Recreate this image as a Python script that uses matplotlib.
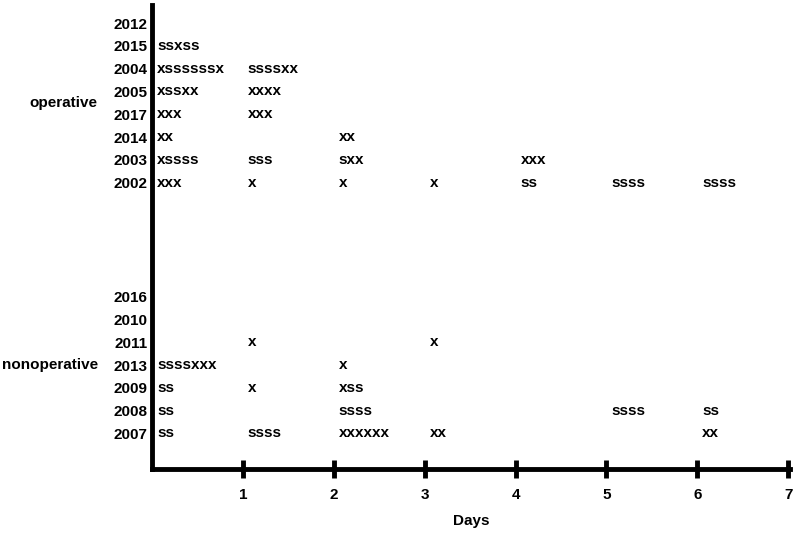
import matplotlib.pyplot as plt
from matplotlib.transforms import blended_transform_factory

plt.rcParams['font.family'] = ['Liberation Sans', 'DejaVu Sans']
plt.rcParams['font.weight'] = 'bold'

# groups and their rows (top to bottom)
operative_years = ['2012', '2015', '2004', '2005', '2017', '2014', '2003', '2002']
operative_marks = [
    {},
    {0: 'ssxss'},
    {0: 'xssssssx', 1: 'ssssxx'},
    {0: 'xssxx', 1: 'xxxx'},
    {0: 'xxx', 1: 'xxx'},
    {0: 'xx', 2: 'xx'},
    {0: 'xssss', 1: 'sss', 2: 'sxx', 4: 'xxx'},
    {0: 'xxx', 1: 'x', 2: 'x', 3: 'x', 4: 'ss', 5: 'ssss', 6: 'ssss'},
]
nonoperative_years = ['2016', '2010', '2011', '2013', '2009', '2008', '2007']
nonoperative_marks = [
    {},
    {},
    {1: 'x', 3: 'x'},
    {0: 'ssssxxx', 2: 'x'},
    {0: 'ss', 1: 'x', 2: 'xss'},
    {0: 'ss', 2: 'ssss', 5: 'ssss', 6: 'ss'},
    {0: 'ss', 1: 'ssss', 2: 'xxxxxx', 3: 'xx', 6: 'xx'},
]
days = [1, 2, 3, 4, 5, 6, 7]

fig = plt.figure(figsize=(8, 5.38), dpi=100)
ax = fig.add_axes([152 / 800, (538 - 469) / 538, 638 / 800, 464 / 538])

# row slots: operative 0..7, gap, nonoperative 12..18
op_slots = list(range(len(operative_years)))
non_start = len(operative_years) + 4
non_slots = [non_start + i for i in range(len(nonoperative_years))]

fs = 11
for slots, marks in [(op_slots, operative_marks), (non_slots, nonoperative_marks)]:
    for s, row in zip(slots, marks):
        for d, txt in row.items():
            ax.text(d + 0.055, s, txt, ha='left', va='center', fontsize=fs, fontweight='bold')

ax.set_xlim(0, 7.02)
ax.set_ylim(19.56, -0.79)

ax.set_yticks(op_slots + non_slots, labels=operative_years + nonoperative_years)
ax.tick_params(axis='y', length=0, pad=3, labelsize=fs)
ax.set_xticks(days, labels=[str(d) for d in days])
ax.tick_params(axis='x', direction='inout', length=13, width=3.5, pad=7, labelsize=fs)
for lbl in ax.get_xticklabels() + ax.get_yticklabels():
    lbl.set_fontweight('bold')

tr = blended_transform_factory(ax.transAxes, ax.transData)
ax.text(-0.085, sum(op_slots) / len(op_slots), 'operative', transform=tr,
        ha='right', va='center', fontsize=fs, fontweight='bold')
ax.text(-0.085, sum(non_slots) / len(non_slots), 'nonoperative', transform=tr,
        ha='right', va='center', fontsize=fs, fontweight='bold')

ax.set_xlabel('Days', fontsize=fs, fontweight='bold', labelpad=9)

ax.spines['top'].set_visible(False)
ax.spines['right'].set_visible(False)
ax.spines['left'].set_linewidth(3.5)
ax.spines['bottom'].set_linewidth(3.5)

fig.savefig('out.png', dpi=100)
